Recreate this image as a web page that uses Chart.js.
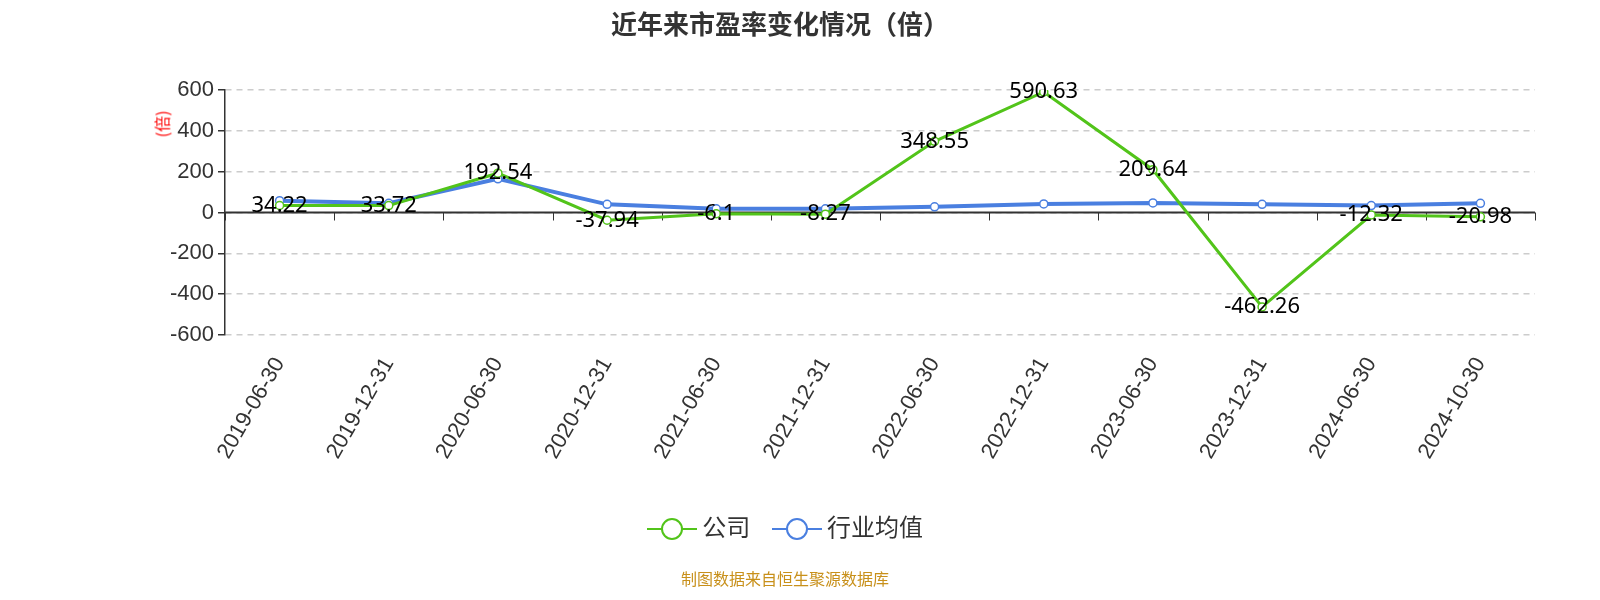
<!DOCTYPE html>
<html>
<head>
<meta charset="utf-8">
<script src="https://cdn.jsdelivr.net/npm/chart.js@4/dist/chart.umd.min.js"></script>
<style>
  body { margin: 0; background: #fff; font-family: "Noto Sans CJK SC", "Noto Sans", sans-serif; }
  #wrap { position: relative; width: 1600px; height: 600px; }
  #title { position: absolute; top: 4px; width: 1560px; text-align: center; font-size: 26px; font-weight: bold; color: #333; }
  #unit { position: absolute; left: 148px; top: 112px; color: red; font-size: 16px; transform: rotate(-90deg); }
  #legend { position: absolute; top: 508px; width: 1570px; text-align: center; font-size: 24px; color: #333; }
  #legend span.item { margin: 0 8px; }
  #legend svg { vertical-align: middle; }
  #source { position: absolute; top: 566px; width: 1570px; text-align: center; font-size: 16px; color: #c8901a; }
</style>
</head>
<body>
<div id="wrap">
  <canvas id="c" width="1600" height="600"></canvas>
  <div id="title">近年来市盈率变化情况（倍）</div>
  <div id="unit">(倍)</div>
  <div id="legend">
    <span class="item"><svg width="50" height="24"><line x1="0" y1="12" x2="50" y2="12" stroke="#52c41a" stroke-width="2"/><circle cx="25" cy="12" r="10" fill="#fff" stroke="#52c41a" stroke-width="2"/></svg> 公司</span>
    <span class="item"><svg width="50" height="24"><line x1="0" y1="12" x2="50" y2="12" stroke="#4a7fe0" stroke-width="2"/><circle cx="25" cy="12" r="10" fill="#fff" stroke="#4a7fe0" stroke-width="2"/></svg> 行业均值</span>
  </div>
  <div id="source">制图数据来自恒生聚源数据库</div>
</div>
<script>
const categories = ["2019-06-30", "2019-12-31", "2020-06-30", "2020-12-31", "2021-06-30", "2021-12-31",
  "2022-06-30", "2022-12-31", "2023-06-30", "2023-12-31", "2024-06-30", "2024-10-30"];
const companyPE = [34.22, 33.72, 192.54, -37.94, -6.1, -8.27, 348.55, 590.63, 209.64, -462.26, -12.32, -20.98];
const industryPE = [58, 45, 165, 40, 18, 18, 28, 42, 47, 40, 34, 45];
const yTicks = [-600, -400, -200, 0, 200, 400, 600];

const labelPlugin = {
  id: "labels",
  afterDatasetsDraw(chart) {
    const ctx = chart.ctx;
    const meta = chart.getDatasetMeta(0);
    ctx.save();
    ctx.font = "22px 'Noto Sans', sans-serif";
    ctx.fillStyle = "#000";
    ctx.textAlign = "center";
    ctx.textBaseline = "middle";
    meta.data.forEach((pt, i) => ctx.fillText(String(companyPE[i]), pt.x, pt.y));
    ctx.restore();
  },
  beforeDatasetsDraw(chart) {
    const ctx = chart.ctx;
    const x = chart.scales.x, y = chart.scales.y;
    const y0 = y.getPixelForValue(0);
    ctx.save();
    ctx.strokeStyle = "#333";
    ctx.lineWidth = 2;
    ctx.beginPath();
    ctx.moveTo(chart.chartArea.left, y0);
    ctx.lineTo(chart.chartArea.right, y0);
    ctx.stroke();
    ctx.lineWidth = 1;
    for (let i = 0; i <= categories.length; i++) {
      const px = Math.round(x.getPixelForValue(i - 0.5)) + 0.5;
      ctx.beginPath();
      ctx.moveTo(px, y0);
      ctx.lineTo(px, y0 + 8);
      ctx.stroke();
    }
    ctx.restore();
  }
};

new Chart(document.getElementById("c"), {
  type: "line",
  data: {
    labels: categories,
    datasets: [
      { label: "公司", data: companyPE, borderColor: "#52c41a", backgroundColor: "#fff",
        borderWidth: 3, pointRadius: 4, pointBorderWidth: 1.5, pointBorderColor: "#52c41a", tension: 0 },
      { label: "行业均值", data: industryPE, borderColor: "#4a7fe0", backgroundColor: "#fff",
        borderWidth: 4, pointRadius: 4, pointBorderWidth: 1.5, pointBorderColor: "#4a7fe0", tension: 0 }
    ]
  },
  options: {
    responsive: false,
    animation: false,
    layout: { padding: { top: 90, right: 65, left: 0, bottom: 0 } },
    plugins: { legend: { display: false }, tooltip: { enabled: false } },
    scales: {
      x: {
        offset: true,
        grid: { display: false },
        border: { display: false },
        afterFit: s => { s.height = 265; },
        ticks: { font: { size: 22 }, color: "#333", maxRotation: 60, minRotation: 60, padding: 10 }
      },
      y: {
        min: -600, max: 600,
        afterBuildTicks: s => { s.ticks = yTicks.map(v => ({ value: v })); },
        afterFit: s => { s.width = 225; },
        grid: { color: "#ccc", lineWidth: 1.5, tickColor: "#333", tickLength: 7 },
        border: { display: true, color: "#333", width: 1.5, dash: [6, 5] },
        ticks: { font: { size: 22 }, color: "#333", padding: 4 }
      }
    }
  },
  plugins: [labelPlugin]
});
</script>
</body>
</html>
